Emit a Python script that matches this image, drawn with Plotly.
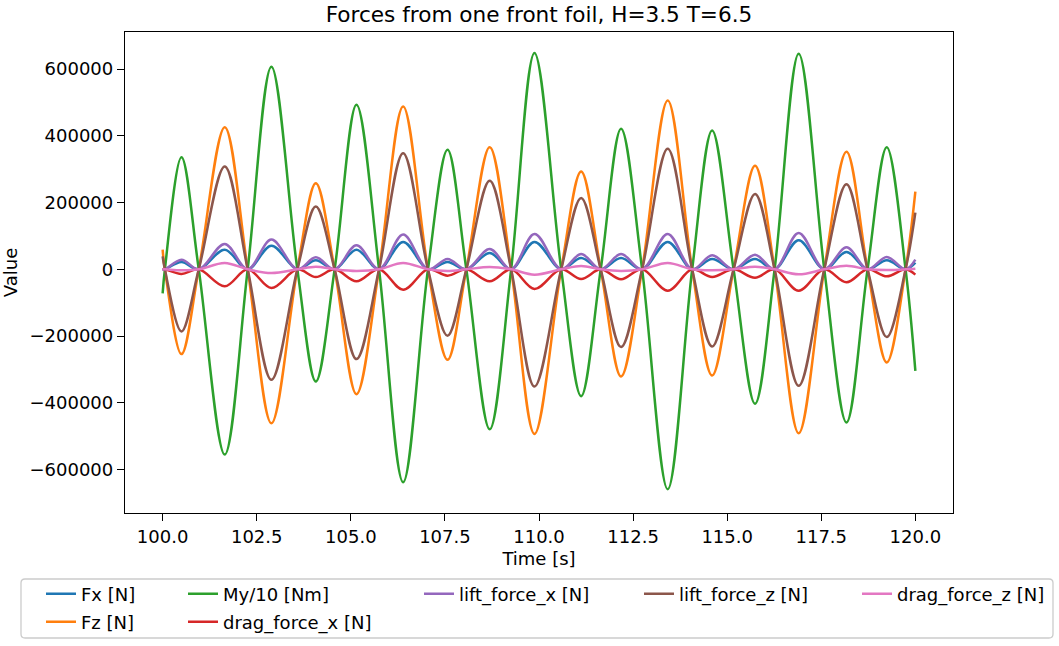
import plotly.graph_objects as go

# Zero crossings shared by all force components (s)
cross_t = [100.06, 100.96, 102.26, 103.58, 104.57, 105.75, 107.05, 108.07, 109.26,
           110.59, 111.64, 112.74, 114.07, 115.17, 116.26, 117.58, 118.73, 119.74]
# Time of the extreme value inside each half-cycle (s)
peak_t = [100.50, 101.65, 102.89, 104.07, 105.15, 106.39, 107.57, 108.69, 109.88,
          111.12, 112.18, 113.42, 114.60, 115.74, 116.90, 118.17, 119.24]
t_start, t_end = 100.0, 120.0

# Extreme value of each half-cycle, plus the values at the start and end of the record
fx_peak = [22000, 59000, 71000, 27000, 59000, 82000, 22000, 49000, 82000,
           34000, 34000, 82000, 31000, 31000, 87000, 52000, 27000]
fx_ends = [0, 20000]

fz_peak = [-254000, 426000, -461000, 258000, -374000, 488000, -271000, 366000, -493000,
           293000, -321000, 506000, -318000, 310000, -491000, 352000, -279000]
fz_ends = [59000, 233000]

my_peak = [336000, -555000, 607000, -336000, 493000, -638000, 358000, -479000, 648000,
           -380000, 421000, -659000, 416000, -403000, 646000, -459000, 366000]
my_ends = [-72000, -304000]

drag_x_peak = [-14000, -51000, -56000, -23000, -36000, -61000, -19000, -36000, -59000,
               -29000, -30000, -64000, -23000, -25000, -64000, -39000, -21000]
drag_x_ends = [0, -16000]

lift_x_peak = [29000, 76000, 89000, 36000, 72000, 104000, 31000, 61000, 106000,
               46000, 46000, 106000, 42000, 44000, 109000, 66000, 37000]
lift_x_ends = [0, 29000]

lift_z_peak = [-186000, 308000, -331000, 188000, -269000, 348000, -199000, 265000, -351000,
               214000, -233000, 361000, -231000, 226000, -349000, 255000, -203000]
lift_z_ends = [39000, 170000]

drag_z_peak = [-3000, 19000, -11000, 8000, -5000, 19000, -5000, 7000, -16000,
               10000, -5000, 19000, -3000, 8000, -15000, 11000, -2000]
drag_z_ends = [0, 2000]

names = ["Fx [N]", "Fz [N]", "My/10 [Nm]", "drag_force_x [N]",
         "lift_force_x [N]", "lift_force_z [N]", "drag_force_z [N]"]
colors = ["#1f77b4", "#ff7f0e", "#2ca02c", "#d62728", "#9467bd", "#8c564b", "#e377c2"]
peaks = [fx_peak, fz_peak, my_peak, drag_x_peak, lift_x_peak, lift_z_peak, drag_z_peak]
ends = [fx_ends, fz_ends, my_ends, drag_x_ends, lift_x_ends, lift_z_ends, drag_z_ends]


def series(pk, en):
    """Time/value sequence: start, crossing, extreme, crossing, ..., end."""
    t = [t_start, cross_t[0]]
    v = [en[0], 0]
    for i, p in enumerate(pk):
        t += [peak_t[i], cross_t[i + 1]]
        v += [p, 0]
    t.append(t_end)
    v.append(en[1])
    return t, v


W, H = 1059, 646
# plot-area geometry in pixels
L, R, T, B = 125, 953, 32, 513
pw, ph = R - L, B - T


def px_to_paper(x, y):
    return (x - L) / pw, (B - y) / ph


# legend entries: (text start px, row centre px); one small legend box per entry
legend_pos = [(81, 594), (81, 622), (223, 594), (223, 622), (459, 594), (679, 594), (897, 594)]
legend_keys = [f"legend{k + 2}" for k in range(7)]

fig = go.Figure()
for k in range(7):
    t, v = series(peaks[k], ends[k])
    fig.add_trace(go.Scatter(
        x=t, y=v, mode="lines", name=names[k],
        line=dict(color=colors[k], width=2.5, shape="spline", smoothing=1.0),
        legend=legend_keys[k], showlegend=True,
    ))

font = dict(family="DejaVu Sans", size=18, color="#000000")
layout_legends = {}
for key, (tx, ty) in zip(legend_keys, legend_pos):
    lx, ly = px_to_paper(tx - 40, ty)
    layout_legends[key] = dict(
        xref="paper", yref="paper", x=lx, y=ly, xanchor="left", yanchor="middle",
        bgcolor="rgba(0,0,0,0)", borderwidth=0, font=font, visible=True,
    )

# rounded frame around the legend block
x0, y1 = px_to_paper(21, 579)
x1, y0 = px_to_paper(1053, 638)
rx, ry = 4 / pw, 4 / ph
frame_path = (f"M{x0 + rx},{y1} L{x1 - rx},{y1} Q{x1},{y1} {x1},{y1 - ry} "
              f"L{x1},{y0 + ry} Q{x1},{y0} {x1 - rx},{y0} L{x0 + rx},{y0} "
              f"Q{x0},{y0} {x0},{y0 + ry} L{x0},{y1 - ry} Q{x0},{y1} {x0 + rx},{y1} Z")

axis_common = dict(
    showgrid=False, zeroline=False, showline=True, linecolor="#000000", linewidth=1.3,
    mirror=True, ticks="outside", ticklen=7, tickwidth=1.3, tickcolor="#000000",
    tickfont=font, automargin=False,
)

fig.update_layout(
    width=W, height=H,
    margin=dict(l=L, r=W - R, t=T, b=H - B, autoexpand=False),
    paper_bgcolor="white", plot_bgcolor="white",
    font=font, showlegend=True,
    title=dict(text="Forces from one front foil, H=3.5 T=6.5", x=0.5, xref="paper",
               y=1 - 14 / H, yref="container", yanchor="middle", xanchor="center",
               font=dict(family="DejaVu Sans", size=21.6, color="#000000")),
    xaxis=dict(range=[99.0, 121.0], tickvals=[100, 102.5, 105, 107.5, 110, 112.5, 115, 117.5, 120],
               ticktext=["100.0", "102.5", "105.0", "107.5", "110.0", "112.5", "115.0", "117.5", "120.0"],
               title=dict(text="Time [s]", font=font, standoff=6), **axis_common),
    yaxis=dict(range=[-730000, 711000], tickvals=[-600000, -400000, -200000, 0, 200000, 400000, 600000],
               ticktext=["\u2212600000", "\u2212400000", "\u2212200000", "0", "200000", "400000", "600000"],
               title=dict(text="Value", font=font, standoff=10), **axis_common),
    shapes=[dict(type="path", xref="paper", yref="paper", path=frame_path,
                 line=dict(color="#cccccc", width=1.3), fillcolor="white", layer="below")],
    **layout_legends,
)

fig.write_html("out.html")
